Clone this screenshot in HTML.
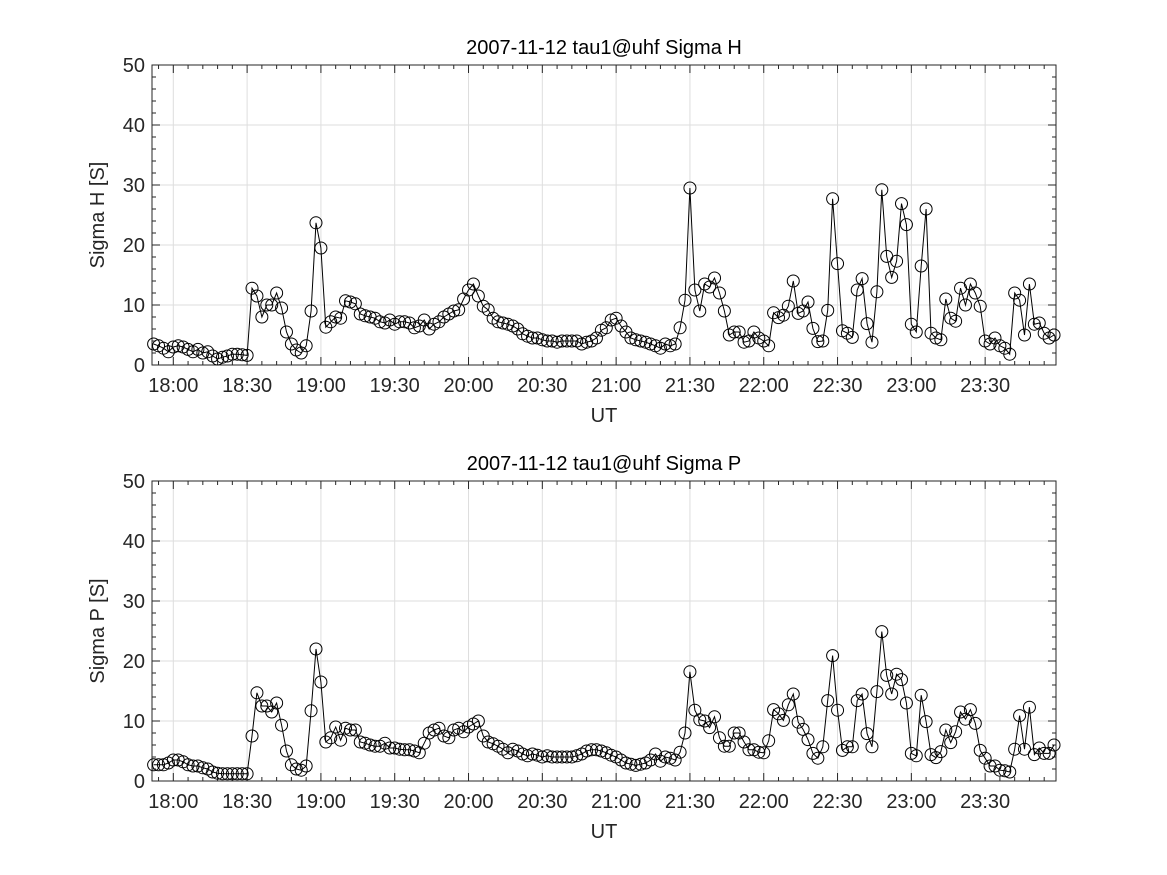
<!DOCTYPE html>
<html><head><meta charset="utf-8"><style>
html,body{margin:0;padding:0;background:#fff;}
svg{display:block;font-family:"Liberation Sans",sans-serif;}
</style></head><body>
<svg id="chart" width="1167" height="875" viewBox="0 0 1167 875" xmlns="http://www.w3.org/2000/svg"></svg>
<script>
// time of first sample in minutes relative to 18:00, step 2 min
const startMin = -8;
const stepMin = 2;
const xTickLabels = ["18:00","18:30","19:00","19:30","20:00","20:30","21:00","21:30","22:00","22:30","23:00","23:30"];
const yTickLabels = [0,10,20,30,40,50];
const sigmaH = [3.5,3.2,2.8,2.2,3.0,3.2,3.0,2.6,2.2,2.6,2.0,2.2,1.5,1.0,1.3,1.5,1.8,1.8,1.7,1.6,
12.8,11.5,8.0,10.0,10.0,12.0,9.5,5.5,3.5,2.5,2.0,3.2,9.0,23.7,19.5,
6.3,7.2,8.0,7.8,10.7,10.5,10.2,8.5,8.2,8.0,7.8,7.2,7.0,7.5,6.8,7.2,7.2,7.0,6.2,6.5,7.5,6.0,6.8,7.2,8.0,8.5,9.0,9.2,11.0,
12.5,13.5,11.5,9.8,9.2,7.8,7.2,7.0,6.8,6.5,6.0,5.2,4.8,4.5,4.5,4.2,4.0,4.0,3.8,4.0,4.0,4.0,4.0,3.5,3.8,4.0,4.5,5.8,6.2,7.5,7.8,
6.5,5.5,4.5,4.2,4.0,3.8,3.5,3.2,2.8,3.5,3.2,3.5,6.2,10.8,29.5,
12.5,9.0,13.5,13.0,14.5,12.0,9.0,5.0,5.5,5.5,3.8,4.0,5.5,4.5,
4.0,3.2,8.7,7.9,8.3,9.8,14.0,8.6,9.0,10.5,6.1,3.9,4.0,9.1,27.7,16.9,5.7,5.3,4.6,12.5,14.4,6.9,3.8,12.2,29.2,18.1,14.6,17.3,26.9,23.4,
6.8,5.5,16.5,26,5.3,4.5,4.2,11,7.8,7.3,12.8,10,13.5,12,9.8,4.0,3.5,4.5,3.2,2.8,1.8,12,10.8,5.0,13.5,6.8,7.0,5.3,4.5,5.0];
const sigmaP = [2.7,2.7,2.7,3.0,3.5,3.5,3.2,2.7,2.5,2.5,2.2,2.0,1.5,1.3,1.2,1.2,1.2,1.2,1.2,1.2,
7.5,14.7,12.5,12.5,11.5,13.0,9.3,5.0,2.7,2.0,1.8,2.5,11.7,22.0,16.5,
6.5,7.2,9.0,6.8,8.8,8.5,8.5,6.5,6.3,6.0,5.8,5.8,6.3,5.5,5.5,5.3,5.2,5.2,5.0,4.7,6.3,8.0,8.5,8.8,7.5,7.2,8.5,8.8,8.2,
9.0,9.5,10.0,7.5,6.5,6.2,5.8,5.3,4.7,5.3,5.0,4.5,4.2,4.5,4.3,4.0,4.2,4.0,4.0,4.0,4.0,4.0,4.2,4.5,5.0,5.2,5.2,5.0,4.7,4.3,4.0,
3.5,3.0,2.8,2.6,2.8,3.0,3.5,4.5,3.3,4.0,3.8,3.5,4.8,8.0,18.2,
11.8,10.2,10.0,8.9,10.7,7.2,5.8,5.8,8.0,8.0,6.5,5.2,5.2,4.8,
4.7,6.7,11.9,11.2,10.1,12.7,14.5,9.8,8.6,6.9,4.6,3.8,5.7,13.4,20.9,11.8,5.1,5.7,5.7,13.4,14.5,7.9,5.7,14.9,24.9,17.6,14.5,17.8,16.9,13.0,
4.6,4.2,14.3,9.9,4.4,3.9,4.9,8.5,6.4,8.2,11.5,10.3,11.9,9.6,5.1,3.8,2.5,2.5,1.8,1.7,1.5,5.3,10.9,5.3,12.3,4.4,5.5,4.6,4.6,6.0];

const NS="http://www.w3.org/2000/svg";
const svg=document.getElementById('chart');
const L=152,R=1056;
const xMinMin=-8.66,xMaxMin=358.8;
function xs(m){return L+(m-xMinMin)/(xMaxMin-xMinMin)*(R-L);}
function mk(tag,attrs,parent){const e=document.createElementNS(NS,tag);for(const k in attrs)e.setAttribute(k,attrs[k]);(parent||svg).appendChild(e);return e;}

function panel(top,bottom,values,title,ylabel,key){
  const g=mk('g',{});
  
  
  const ys=v=>bottom-(v/50)*(bottom-top);
  // grid
  xTickLabels.forEach((lab,i)=>{const x=xs(i*30);
    const l=mk('line',{x1:x,x2:x,y1:top,y2:bottom,stroke:'#dedede','stroke-width':1},g);
    
    });
  yTickLabels.forEach(v=>{const y=ys(v);
    const l=mk('line',{x1:L,x2:R,y1:y,y2:y,stroke:'#dedede','stroke-width':1},g);
    
    });
  // minor ticks x every 6 min
  for(let m=-6;m<=xMaxMin;m+=6){const x=xs(m);const major=(m%30===0);const len=major?8:4;
    const t1=mk('line',{x1:x,x2:x,y1:bottom,y2:bottom-len,stroke:'#262626','stroke-width':1},g);
    
    
    const t2=mk('line',{x1:x,x2:x,y1:top,y2:top+len,stroke:'#262626','stroke-width':1},g);
    
    }
  for(let v=0;v<=50;v+=2){const y=ys(v);const major=(v%10===0);const len=major?8:4;
    const t1=mk('line',{x1:L,x2:L+len,y1:y,y2:y,stroke:'#262626','stroke-width':1},g);
    
    
    const t2=mk('line',{x1:R,x2:R-len,y1:y,y2:y,stroke:'#262626','stroke-width':1},g);
    
    }
  const box=mk('rect',{x:L,y:top,width:R-L,height:bottom-top,fill:'none',stroke:'#262626','stroke-width':1},g);
  
  
  // tick labels
  xTickLabels.forEach((lab,i)=>{
    const t=mk('text',{x:xs(i*30),y:bottom+27,'text-anchor':'middle','font-size':20,fill:'#262626'},g);
    t.textContent=lab;
    
    });
  yTickLabels.forEach(v=>{
    const t=mk('text',{x:L-7,y:ys(v)+7,'text-anchor':'end','font-size':20,fill:'#262626'},g);
    t.textContent=v;
    
    });
  const tt=mk('text',{x:(L+R)/2,y:top-11,'text-anchor':'middle','font-size':20,fill:'#000'},g);
  tt.textContent=title;
  
  
  const xl=mk('text',{x:(L+R)/2,y:bottom+57,'text-anchor':'middle','font-size':20,fill:'#262626'},g);
  xl.textContent='UT';
  
  
  const cy=(top+bottom)/2;
  const yl=mk('text',{x:104,y:cy,'text-anchor':'middle','font-size':20,fill:'#262626',transform:'rotate(-90 104 '+cy+')'},g);
  yl.textContent=ylabel;
  
  
  // series
  const pts=values.map((v,i)=>[xs(startMin+i*stepMin),ys(v)]);
  const pl=mk('polyline',{points:pts.map(p=>p[0].toFixed(1)+','+p[1].toFixed(1)).join(' '),fill:'none',stroke:'#000','stroke-width':1},g);
  
  
  pts.forEach(p=>{
    const c=mk('circle',{cx:p[0],cy:p[1],r:6,fill:'none',stroke:'#000','stroke-width':1},g);
    
    });
}
panel(65,365,sigmaH,'2007-11-12  tau1@uhf Sigma H','Sigma H [S]','sigma-h');
panel(481,781,sigmaP,'2007-11-12  tau1@uhf Sigma P','Sigma P [S]','sigma-p');
</script>
</body></html>
